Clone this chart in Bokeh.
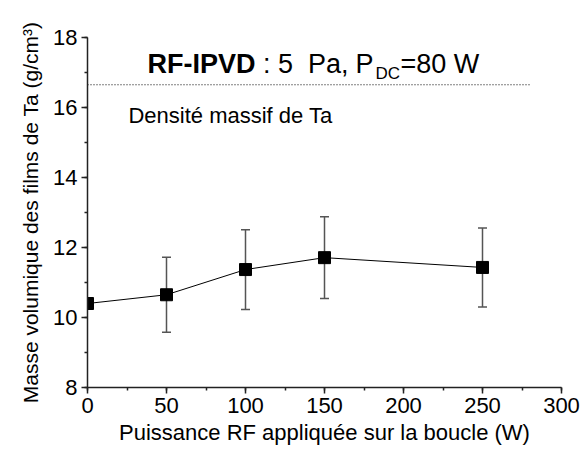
import math
from bokeh.plotting import figure
from bokeh.models import (Range1d, LinearAxis, SingleIntervalTicker, Whisker,
                          ColumnDataSource, Label, TeeHead)
from bokeh.embed import file_html
from bokeh.resources import INLINE

# ---- data ----
power_w = [0, 50, 100, 150, 250]
density = [10.40, 10.65, 11.37, 11.71, 11.43]
density_err = [float("nan"), 1.07, 1.14, 1.17, 1.13]
bulk_density = 16.65
bulk_x = [0, 280]

x_ticks_interval = 50
y_ticks_interval = 2

FONT = "Liberation Sans"

p = figure(width=580, height=450, output_backend="svg", toolbar_location=None,
           x_range=Range1d(0, 300), y_range=Range1d(8, 18),
           x_axis_type=None, y_axis_type=None,
           min_border_left=87, min_border_right=19, min_border_top=37, min_border_bottom=63)
p.outline_line_color = None
p.xgrid.visible = False
p.ygrid.visible = False
p.background_fill_color = "white"
p.border_fill_color = "white"

def style_axis(ax):
    ax.axis_line_color = "#222222"
    ax.axis_line_width = 1.5
    ax.major_tick_line_color = "#222222"
    ax.major_tick_line_width = 1.5
    ax.minor_tick_line_color = "#222222"
    ax.minor_tick_line_width = 1.5
    ax.major_tick_out = 6
    ax.major_tick_in = 0
    ax.minor_tick_out = 3
    ax.minor_tick_in = 0
    ax.major_label_text_font = FONT
    ax.major_label_text_font_size = "22px"
    ax.major_label_text_color = "black"
    ax.axis_label_text_font = FONT
    ax.axis_label_text_font_size = "21px"
    ax.axis_label_text_font_style = "normal"
    ax.axis_label_text_color = "black"

xaxis = LinearAxis(ticker=SingleIntervalTicker(interval=x_ticks_interval, num_minor_ticks=2),
                   axis_label="Puissance RF appliquée sur la boucle (W)")
style_axis(xaxis)
xaxis.axis_label_text_font_size = "22px"
xaxis.major_label_standoff = 4
xaxis.axis_label_standoff = 4
p.add_layout(xaxis, "below")

yaxis = LinearAxis(ticker=SingleIntervalTicker(interval=y_ticks_interval, num_minor_ticks=2),
                   axis_label="Masse volumique des films de Ta (g/cm³)")
style_axis(yaxis)
yaxis.major_label_standoff = 4
yaxis.axis_label_standoff = 8
p.add_layout(yaxis, "left")

# bulk density reference line
p.line(bulk_x, [bulk_density] * len(bulk_x), line_color="black", line_width=1, line_dash="1 2")

src = ColumnDataSource(dict(
    x=power_w, y=density,
    lo=[d - e for d, e in zip(density, density_err)],
    hi=[d + e for d, e in zip(density, density_err)],
))

wh = Whisker(source=src, base="x", upper="hi", lower="lo",
             line_color="#555555", line_width=1.5,
             upper_head=TeeHead(size=9, line_color="#555555", line_width=1.5),
             lower_head=TeeHead(size=9, line_color="#555555", line_width=1.5))
p.add_layout(wh)

p.line("x", "y", source=src, line_color="black", line_width=1)
p.scatter("x", "y", source=src, marker="square", size=12, fill_color="black", line_color="black")

# title pieces
title_y = 17.257
def tlabel(x, y, text, size="27px", style="normal"):
    p.add_layout(Label(x=x, y=y, text=text, text_font=FONT, text_font_size=size,
                       text_font_style=style, text_color="black", text_baseline="alphabetic"))

tlabel(38.0, title_y, "RF-IPVD", style="bold")
tlabel(111.0, title_y, ": 5")
tlabel(139.5, title_y, "Pa,")
tlabel(169.6, title_y, "P")
tlabel(182.3, 16.97, "DC", size="17px")
tlabel(198.1, title_y, "=80 W")

tlabel(25.9, 15.77, "Densité massif de Ta", size="22px")

open("out.html", "w").write(file_html(p, INLINE))
